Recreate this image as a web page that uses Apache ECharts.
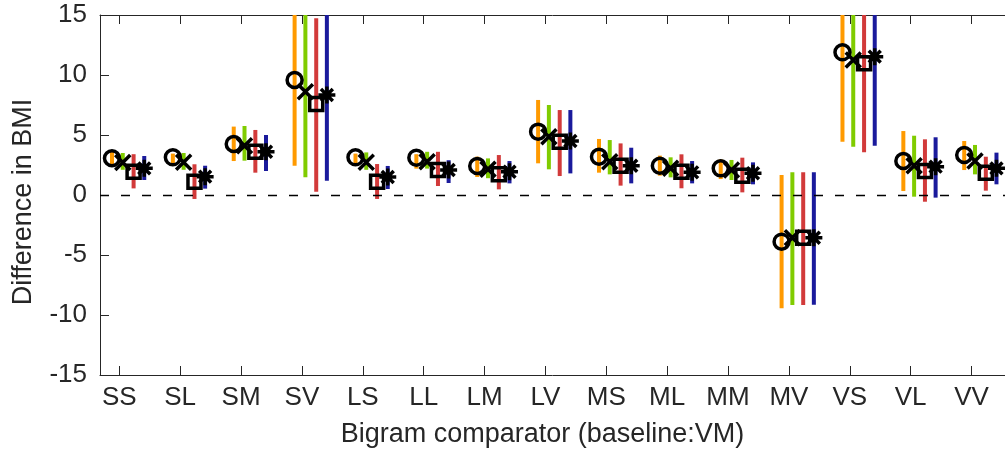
<!DOCTYPE html>
<html>
<head>
<meta charset="utf-8">
<title>Difference in BMI by bigram comparator</title>
<script src="https://cdn.jsdelivr.net/npm/echarts@6/dist/echarts.min.js"></script>
<style>
    html, body { margin: 0; padding: 0; background: #fff; }
    #chart { width: 1005px; height: 456px; }
</style>
</head>
<body>
<div id="chart"></div>
<script>
    // bigram categories (x axis)
    var categories = ['SS', 'SL', 'SM', 'SV', 'LS', 'LL', 'LM', 'LV', 'MS', 'ML', 'MM', 'MV', 'VS', 'VL', 'VV'];
    var yTicks = [-15, -10, -5, 0, 5, 10, 15];

    // series 1 : circle / orange bar
    var s1Mean = [3.06, 3.14, 4.25, 9.58, 3.14, 3.11, 2.42, 5.28, 3.19, 2.44, 2.22, -3.89, 11.89, 2.83, 3.33];
    var s1Low  = [2.4, 2.6, 2.83, 2.44, 2.6, 2.2, 1.5, 2.64, 1.86, 1.61, 1.33, -9.44, 4.44, 0.33, 2.08];
    var s1High = [3.6, 3.45, 5.7, 16.8, 3.45, 3.4, 3.2, 7.92, 4.67, 3.28, 2.97, 1.67, 19.0, 5.33, 4.5];

    // series 2 : cross / green bar
    var s2Mean = [2.7, 2.72, 4.1, 8.6, 2.72, 2.78, 2.14, 4.86, 2.78, 2.22, 2.08, -3.56, 11.25, 2.44, 2.83];
    var s2Low  = [2.1, 2.1, 2.86, 1.47, 2.1, 2.2, 1.4, 2.14, 1.72, 1.47, 1.25, -9.17, 4.03, -0.14, 1.72];
    var s2High = [3.5, 3.5, 5.75, 16.5, 3.55, 3.6, 3.05, 7.5, 4.58, 3.14, 2.92, 1.89, 18.5, 4.94, 4.17];

    // series 3 : square / red bar
    var s3Mean = [1.94, 1.11, 3.6, 7.58, 1.11, 2.08, 1.72, 4.44, 2.44, 1.94, 1.61, -3.56, 10.97, 2.0, 1.86];
    var s3Low  = [0.55, -0.33, 1.86, 0.28, -0.33, 0.75, 0.47, 1.58, 0.78, 0.56, 0.22, -9.17, 3.56, -0.56, 0.36];
    var s3High = [3.4, 2.56, 5.42, 14.72, 2.58, 3.6, 3.33, 7.08, 4.3, 3.39, 3.11, 1.89, 18.4, 4.64, 3.19];

    // series 4 : asterisk / blue bar
    var s4Mean = [2.22, 1.53, 3.6, 8.33, 1.5, 2.08, 1.94, 4.5, 2.44, 1.89, 1.81, -3.56, 11.53, 2.36, 2.22];
    var s4Low  = [1.25, 0.53, 2.0, 1.19, 0.5, 1.0, 0.97, 1.8, 0.97, 0.97, 0.89, -9.14, 4.11, -0.22, 0.89];
    var s4High = [3.25, 2.44, 5.0, 15.5, 2.42, 2.9, 2.83, 7.08, 3.94, 2.83, 2.72, 1.89, 19.0, 4.81, 3.53];

    var groups = [
        { mean: s1Mean, low: s1Low, high: s1High, color: '#ff9a00', offset: -0.12, symbol: 'circle', size: 15 },
        { mean: s2Mean, low: s2Low, high: s2High, color: '#80cc00', offset: 0.057, symbol: 'path://M0,0L10,10M10,0L0,10', size: 15 },
        { mean: s3Mean, low: s3Low, high: s3High, color: '#d23a3a', offset: 0.235, symbol: 'rect', size: 13 },
        { mean: s4Mean, low: s4Low, high: s4High, color: '#1a1a9c', offset: 0.41,
          symbol: 'path://M5,0L5,10M0,5L10,5M1.5,1.5L8.5,8.5M8.5,1.5L1.5,8.5', size: 17 }
    ];

    var tickPos = categories.map(function (c, i) { return i + 1; });
    var axisColor = '#262626';
    var fontFamily = '"Liberation Sans", Arial, Helvetica, sans-serif';

    function renderBar(params, api) {
        var top = api.coord([api.value(0), api.value(2)]);
        var bottom = api.coord([api.value(0), api.value(1)]);
        return {
            type: 'line',
            shape: { x1: top[0], y1: top[1], x2: bottom[0], y2: bottom[1] },
            style: { stroke: api.visual('color'), lineWidth: 4, lineCap: 'butt' }
        };
    }

    var series = [];
    groups.forEach(function (g) {
        series.push({
            type: 'custom',
            renderItem: renderBar,
            clip: true,
            silent: true,
            itemStyle: { color: g.color },
            encode: { x: 0, y: [1, 2] },
            data: categories.map(function (c, i) { return [i + 1 + g.offset, g.low[i], g.high[i]]; }),
            z: 2
        });
    });
    groups.forEach(function (g) {
        series.push({
            type: 'scatter',
            symbol: g.symbol,
            symbolSize: g.size,
            silent: true,
            clip: true,
            itemStyle: { color: 'rgba(0,0,0,0)', borderColor: '#000', borderWidth: 3.5, opacity: 1 },
            data: categories.map(function (c, i) { return [i + 1 + g.offset, g.mean[i]]; }),
            z: 4
        });
    });
    // dashed zero line
    series[0].markLine = {
        silent: true,
        symbol: 'none',
        label: { show: false },
        lineStyle: { color: '#000', width: 1.3, type: [9, 12] },
        data: [{ yAxis: 0 }]
    };

    var chart = echarts.init(document.getElementById('chart'), null, { renderer: 'canvas' });
    chart.setOption({
        animation: false,
        backgroundColor: '#fff',
        grid: { left: 100, top: 15, width: 906, height: 360 },
        xAxis: [{
            type: 'value',
            min: 0.683,
            max: 15.55,
            position: 'bottom',
            name: 'Bigram comparator (baseline:VM)',
            nameLocation: 'middle',
            nameGap: 46,
            nameTextStyle: { fontSize: 27, color: axisColor, fontFamily: fontFamily, padding: [0, 20, 0, 0] },
            axisLine: { onZero: false, lineStyle: { color: axisColor, width: 1 } },
            axisTick: { inside: true, length: 9, customValues: tickPos, lineStyle: { color: axisColor } },
            axisLabel: {
                customValues: tickPos,
                margin: 10,
                fontSize: 26,
                color: axisColor,
                fontFamily: fontFamily,
                formatter: function (v) { return categories[Math.round(v) - 1] || ''; }
            },
            splitLine: { show: false }
        }, {
            type: 'value',
            min: 0.683,
            max: 15.55,
            position: 'top',
            axisLine: { onZero: false, lineStyle: { color: axisColor, width: 1 } },
            axisTick: { inside: true, length: 9, customValues: tickPos, lineStyle: { color: axisColor } },
            axisLabel: { show: false },
            splitLine: { show: false }
        }],
        yAxis: {
            type: 'value',
            min: -15,
            max: 15,
            interval: 5,
            name: 'Difference in BMI',
            nameLocation: 'middle',
            nameGap: 63,
            nameTextStyle: { fontSize: 27, color: axisColor, fontFamily: fontFamily, padding: [0, 14, 0, 0] },
            axisLine: { show: true, onZero: false, lineStyle: { color: axisColor, width: 1 } },
            axisTick: { show: true, inside: true, length: 9, customValues: yTicks, lineStyle: { color: axisColor } },
            axisLabel: { margin: 13, fontSize: 26, color: axisColor, fontFamily: fontFamily },
            splitLine: { show: false }
        },
        series: series
    });
</script>
</body>
</html>
